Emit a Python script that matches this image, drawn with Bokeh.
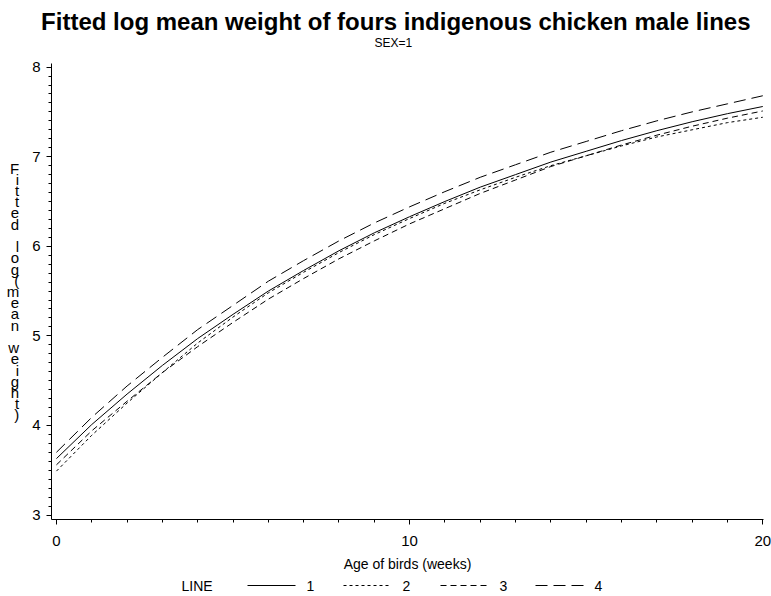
from bokeh.plotting import figure
from bokeh.models import Range1d, FixedTicker, Title
from bokeh.layouts import column
from bokeh.embed import file_html
from bokeh.resources import INLINE
from bokeh.core.properties import value

# ---------------- data ----------------
weeks = list(range(0, 21))
line_names = ["1", "2", "3", "4"]
line1 = [3.63, 4.01, 4.35, 4.67, 4.97, 5.24, 5.50, 5.73, 5.95, 6.15, 6.33,
         6.50, 6.66, 6.80, 6.94, 7.06, 7.18, 7.29, 7.39, 7.48, 7.56]
line2 = [3.49, 3.89, 4.25, 4.59, 4.92, 5.21, 5.48, 5.71, 5.93, 6.13, 6.31,
         6.48, 6.63, 6.77, 6.90, 7.01, 7.12, 7.22, 7.30, 7.38, 7.44]
line3 = [3.56, 3.94, 4.27, 4.59, 4.88, 5.15, 5.41, 5.64, 5.86, 6.06, 6.25,
         6.42, 6.59, 6.74, 6.89, 7.01, 7.13, 7.24, 7.34, 7.43, 7.51]
line4 = [3.70, 4.09, 4.44, 4.76, 5.07, 5.34, 5.61, 5.84, 6.06, 6.26, 6.44,
         6.61, 6.77, 6.91, 7.05, 7.17, 7.29, 7.40, 7.50, 7.59, 7.68]
x_ticks = [0, 10, 20]
y_ticks = [3, 4, 5, 6, 7, 8]

title_text = "Fitted log mean weight of fours indigenous chicken male lines"
subtitle_text = "SEX=1"
x_label = "Age of birds (weeks)"
y_label = "Fitted log(mean weight)"
legend_title = "LINE"

# ---------------- styles ----------------
FONT = "Liberation Sans"
dashes = ["solid", "3 3", "6 4", "12 6"]
series = [line1, line2, line3, line4]
W = 771
LEFT, RIGHT = 51, 8

p = figure(width=W, height=575, output_backend="svg", toolbar_location=None,
           title=None,
           x_range=Range1d(-0.14, 20.02), y_range=Range1d(2.95, 8.04),
           min_border_left=LEFT, min_border_right=RIGHT, min_border_top=63,
           min_border_bottom=56)
p.outline_line_color = None
p.grid.visible = False
p.background_fill_color = "white"
p.border_fill_color = "white"

for vals, d in zip(series, dashes):
    p.line(weeks, vals, line_color="black", line_width=1, line_dash=d)

minor_y = [round(3 + i / 10, 1) for i in range(51)]
p.xaxis.ticker = FixedTicker(ticks=x_ticks, minor_ticks=weeks)
p.yaxis.ticker = FixedTicker(ticks=y_ticks, minor_ticks=minor_y)

for ax in (p.xaxis, p.yaxis):
    ax.axis_line_color = "black"
    ax.axis_line_width = 1
    ax.major_tick_in = 0
    ax.major_tick_out = 5
    ax.minor_tick_in = 0
    ax.minor_tick_out = 3
    ax.major_tick_line_color = "black"
    ax.minor_tick_line_color = "black"
    ax.major_label_text_font = FONT
    ax.major_label_text_font_size = "15px"
    ax.major_label_text_color = "black"

p.yaxis.major_label_standoff = 6
p.xaxis.major_label_standoff = 11
p.xaxis.axis_label = x_label
p.xaxis.axis_label_text_font = FONT
p.xaxis.axis_label_text_font_size = "14px"
p.xaxis.axis_label_text_font_style = "normal"
p.xaxis.axis_label_text_color = "black"
p.xaxis.axis_label_standoff = 7

# stacked (upright) y-axis label
p.yaxis.axis_label = "\n".join(y_label)
p.yaxis.axis_label_orientation = "horizontal"
p.yaxis.axis_label_text_font = FONT
p.yaxis.axis_label_text_font_size = "15px"
p.yaxis.axis_label_text_font_style = "normal"
p.yaxis.axis_label_text_color = "black"
p.yaxis.axis_label_text_line_height = 0.66
p.yaxis.axis_label_standoff = 10
p.yaxis.axis_label_text_align = "center"

# subtitle (closest to frame) then main title
p.add_layout(Title(text=subtitle_text, align="left", offset=323,
                   text_font=FONT, text_font_size="12px", text_font_style="normal",
                   text_color="black", standoff=28), "above")
p.add_layout(Title(text=title_text, align="right", offset=13,
                   text_font=FONT, text_font_size="24px", text_font_style="bold",
                   text_color="black", standoff=-30), "above")

# ---------------- legend strip ----------------
lg = figure(width=W, height=21, x_range=Range1d(LEFT, W - RIGHT), y_range=Range1d(0, 21),
            output_backend="svg", toolbar_location=None,
            min_border_left=LEFT, min_border_right=RIGHT, min_border_top=0,
            min_border_bottom=0, x_axis_location=None, y_axis_location=None)
lg.outline_line_color = None
lg.grid.visible = False

legend_x0 = [247, 343, 440, 535]
sample_len = 48
ly = 11
lg.text([181], [ly], text=[legend_title], text_font=value(FONT), text_font_size="14px",
        text_baseline="middle", text_align="left", text_color="black")
for x0, name, d in zip(legend_x0, line_names, dashes):
    lg.line([x0, x0 + sample_len], [ly, ly], line_color="black", line_width=1, line_dash=d)
    lg.text([x0 + sample_len + 11], [ly], text=[name], text_font=value(FONT),
            text_font_size="14px", text_baseline="middle", text_align="left",
            text_color="black")

layout = column(p, lg, spacing=0)
open("out.html", "w").write(file_html(layout, INLINE))
